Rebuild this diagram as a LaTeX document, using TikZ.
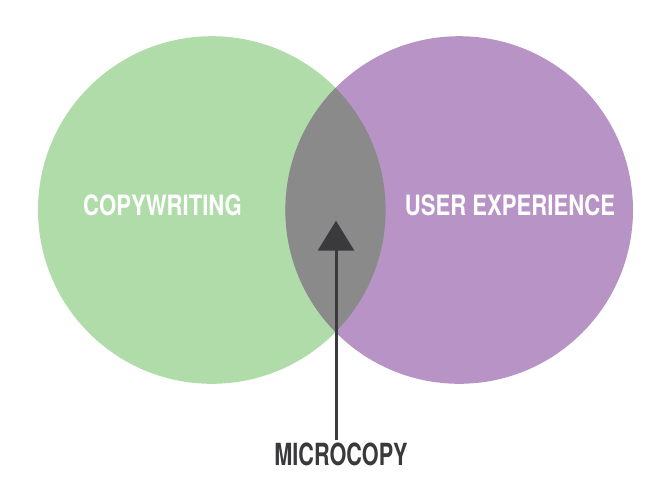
\documentclass[tikz,border=0pt]{standalone}
\usepackage{xcolor}
\usepackage{fontspec}
\usepackage{tikz}
\usetikzlibrary{arrows.meta}
\usetikzlibrary{positioning}
\newfontfamily\vennfont[FakeStretch=0.79]{TeX Gyre Heros}
\newfontfamily\pointfont[FakeStretch=0.71]{TeX Gyre Heros}
\definecolor{cwgreen}{HTML}{AFDCA8}
\definecolor{uxpurple}{HTML}{B794C5}
\definecolor{mcgray}{HTML}{898A89}
\definecolor{mcdark}{HTML}{3A3A3C}
\tikzstyle{venn}=[circle,draw=none,inner sep=0,minimum size=347.6pt]
\tikzstyle{setlabel}=[text=white,inner sep=0,font=\vennfont\bfseries\fontsize{28}{28}\selectfont]
\tikzstyle{pointlabel}=[text=mcdark,inner sep=2pt,font=\pointfont\bfseries\fontsize{30.5}{30.5}\selectfont]
\tikzstyle{pointer} = [draw,line width=3pt,mcdark,-{Triangle[width=36pt,length=30pt]}]

\begin{document}
\begin{tikzpicture}[x=1pt,y=-1pt]
\useasboundingbox (0,0) rectangle (671,496);
	\node[venn,fill=cwgreen] (cw) at (211.8,210) {};
	\node[venn,fill=uxpurple] (ux) at (459.2,210) {};
	
	\begin{scope}
	\clip (cw.center) circle (173.8pt);
	\fill[mcgray] (ux.center) circle (173.8pt);
	\end{scope}
	
	\node[setlabel] (cwl) at (162.5,205) {COPYWRITING};
	\node[setlabel] (uxl) at (510,205) {USER EXPERIENCE};
	\node[pointlabel] (mc) at (341,454) {MICROCOPY};
	
	\coordinate (tip) at (336,220.7);
	
	\path[pointer] (mc.north -| tip) -- (tip);
\end{tikzpicture}
\end{document}
